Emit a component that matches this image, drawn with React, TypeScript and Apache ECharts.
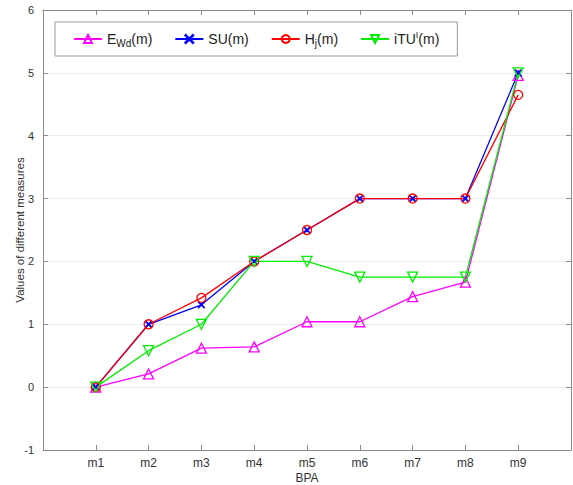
import React, { useEffect, useRef } from "react";
import * as echarts from "echarts";

const categories = ["m1", "m2", "m3", "m4", "m5", "m6", "m7", "m8", "m9"];
const seriesNames = ["E_Wd(m)", "SU(m)", "H_j(m)", "iTU^I(m)"];
const eWd = [0, 0.21, 0.62, 0.64, 1.04, 1.04, 1.44, 1.67, 4.96];
const su = [0, 1, 1.31, 2, 2.5, 3, 3, 3, 5];
const hj = [0, 1, 1.42, 2, 2.5, 3, 3, 3, 4.65];
const itu = [0, 0.58, 1, 2, 2, 1.75, 1.75, 1.75, 5];
const yTicks = [-1, 0, 1, 2, 3, 4, 5, 6];

const legendRich: Record<string, string> = {
  "E_Wd(m)": "{a|E}{sub|Wd}{a|(m)}",
  "SU(m)": "{a|SU(m)}",
  "H_j(m)": "{a|H}{sub|j}{a|(m)}",
  "iTU^I(m)": "{a|iTU}{sup|I}{a|(m)}",
};

const toPoints = (vals: number[]) => vals.map((v, i) => [i + 1, v]);

export default function App() {
  const ref = useRef<HTMLDivElement>(null);
  useEffect(() => {
    if (!ref.current) return;
    const chart = echarts.init(ref.current, undefined, { renderer: "svg" });
    const font = "Liberation Sans, Arial, sans-serif";
    const axisColor = "#8c8c8c";
    const labelColor = "#333";
    const mk = (
      name: string,
      data: number[],
      color: string,
      symbol: string,
      size: number,
      rotate = 0
    ) => ({
      name,
      type: "line",
      data: toPoints(data),
      symbol,
      symbolSize: size,
      symbolRotate: rotate,
      showAllSymbol: true,
      lineStyle: { color, width: 1.3 },
      itemStyle: { color: "rgba(255,255,255,0)", borderColor: color, borderWidth: 1.3 },
      emphasis: { disabled: true },
      xAxisIndex: 0,
      yAxisIndex: 0,
    });
    const frameAxis = {
      axisLine: { show: true, onZero: false, lineStyle: { color: axisColor, width: 1 } },
      axisTick: { show: true, inside: true, length: 5, lineStyle: { color: axisColor } },
    };
    chart.setOption({
      animation: false,
      textStyle: { fontFamily: font },
      grid: {
        left: 43,
        top: 10,
        right: 2,
        bottom: 35,
        containLabel: false,
        outerBoundsMode: "none",
      },
      legend: {
        left: 55,
        top: 22,
        orient: "horizontal",
        data: seriesNames,
        itemWidth: 28,
        itemHeight: 10,
        itemGap: 22,
        padding: [8, 18, 8, 18],
        borderColor: "#999",
        borderWidth: 1,
        backgroundColor: "#fff",
        formatter: (name: string) => legendRich[name] || name,
        textStyle: {
          fontFamily: font,
          rich: {
            a: { fontSize: 14, color: "#222", lineHeight: 18, fontFamily: font },
            sub: { fontSize: 10, color: "#222", lineHeight: 10, verticalAlign: "bottom", fontFamily: font },
            sup: { fontSize: 9, color: "#222", lineHeight: 12, verticalAlign: "top", fontFamily: font },
          },
        },
      },
      xAxis: [
        {
          type: "value",
          min: 0,
          max: 10,
          interval: 1,
          name: "BPA",
          nameLocation: "middle",
          nameGap: 22,
          nameMoveOverlap: false,
          nameTextStyle: { fontSize: 12, color: labelColor },
          ...frameAxis,
          axisLabel: {
            fontSize: 12,
            color: labelColor,
            margin: 7,
            formatter: (v: number) => categories[v - 1] || "",
          },
          splitLine: { show: false },
        },
        {
          type: "value",
          position: "top",
          min: 0,
          max: 10,
          interval: 1,
          ...frameAxis,
          axisLabel: { show: false },
          splitLine: { show: false },
        },
      ],
      yAxis: [
        {
          type: "value",
          min: yTicks[0],
          max: yTicks[yTicks.length - 1],
          interval: 1,
          name: "Values of different measures",
          nameLocation: "middle",
          nameGap: 17,
          nameMoveOverlap: false,
          nameTextStyle: { fontSize: 11.5, color: labelColor },
          ...frameAxis,
          axisLabel: { fontSize: 11, color: labelColor, margin: 9 },
          splitLine: { show: true, lineStyle: { color: "#ececec", width: 1 } },
        },
        {
          type: "value",
          position: "right",
          min: yTicks[0],
          max: yTicks[yTicks.length - 1],
          interval: 1,
          ...frameAxis,
          axisLabel: { show: false },
          splitLine: { show: false },
        },
      ],
      series: [
        mk(seriesNames[0], eWd, "#ff00ff", "triangle", 10),
        mk(seriesNames[1], su, "#0000ff", "path://M0,0.6L0.6,0L5,4.4L9.4,0L10,0.6L5.6,5L10,9.4L9.4,10L5,5.6L0.6,10L0,9.4L4.4,5Z", 6),
        mk(seriesNames[2], hj, "#ff0000", "circle", 9),
        mk(seriesNames[3], itu, "#00ee00", "triangle", 10, 180),
      ],
    });
    return () => chart.dispose();
  }, []);
  return (
    <div
      ref={ref}
      style={{ position: "absolute", left: 0, top: 0, width: 573, height: 485 }}
    />
  );
}
